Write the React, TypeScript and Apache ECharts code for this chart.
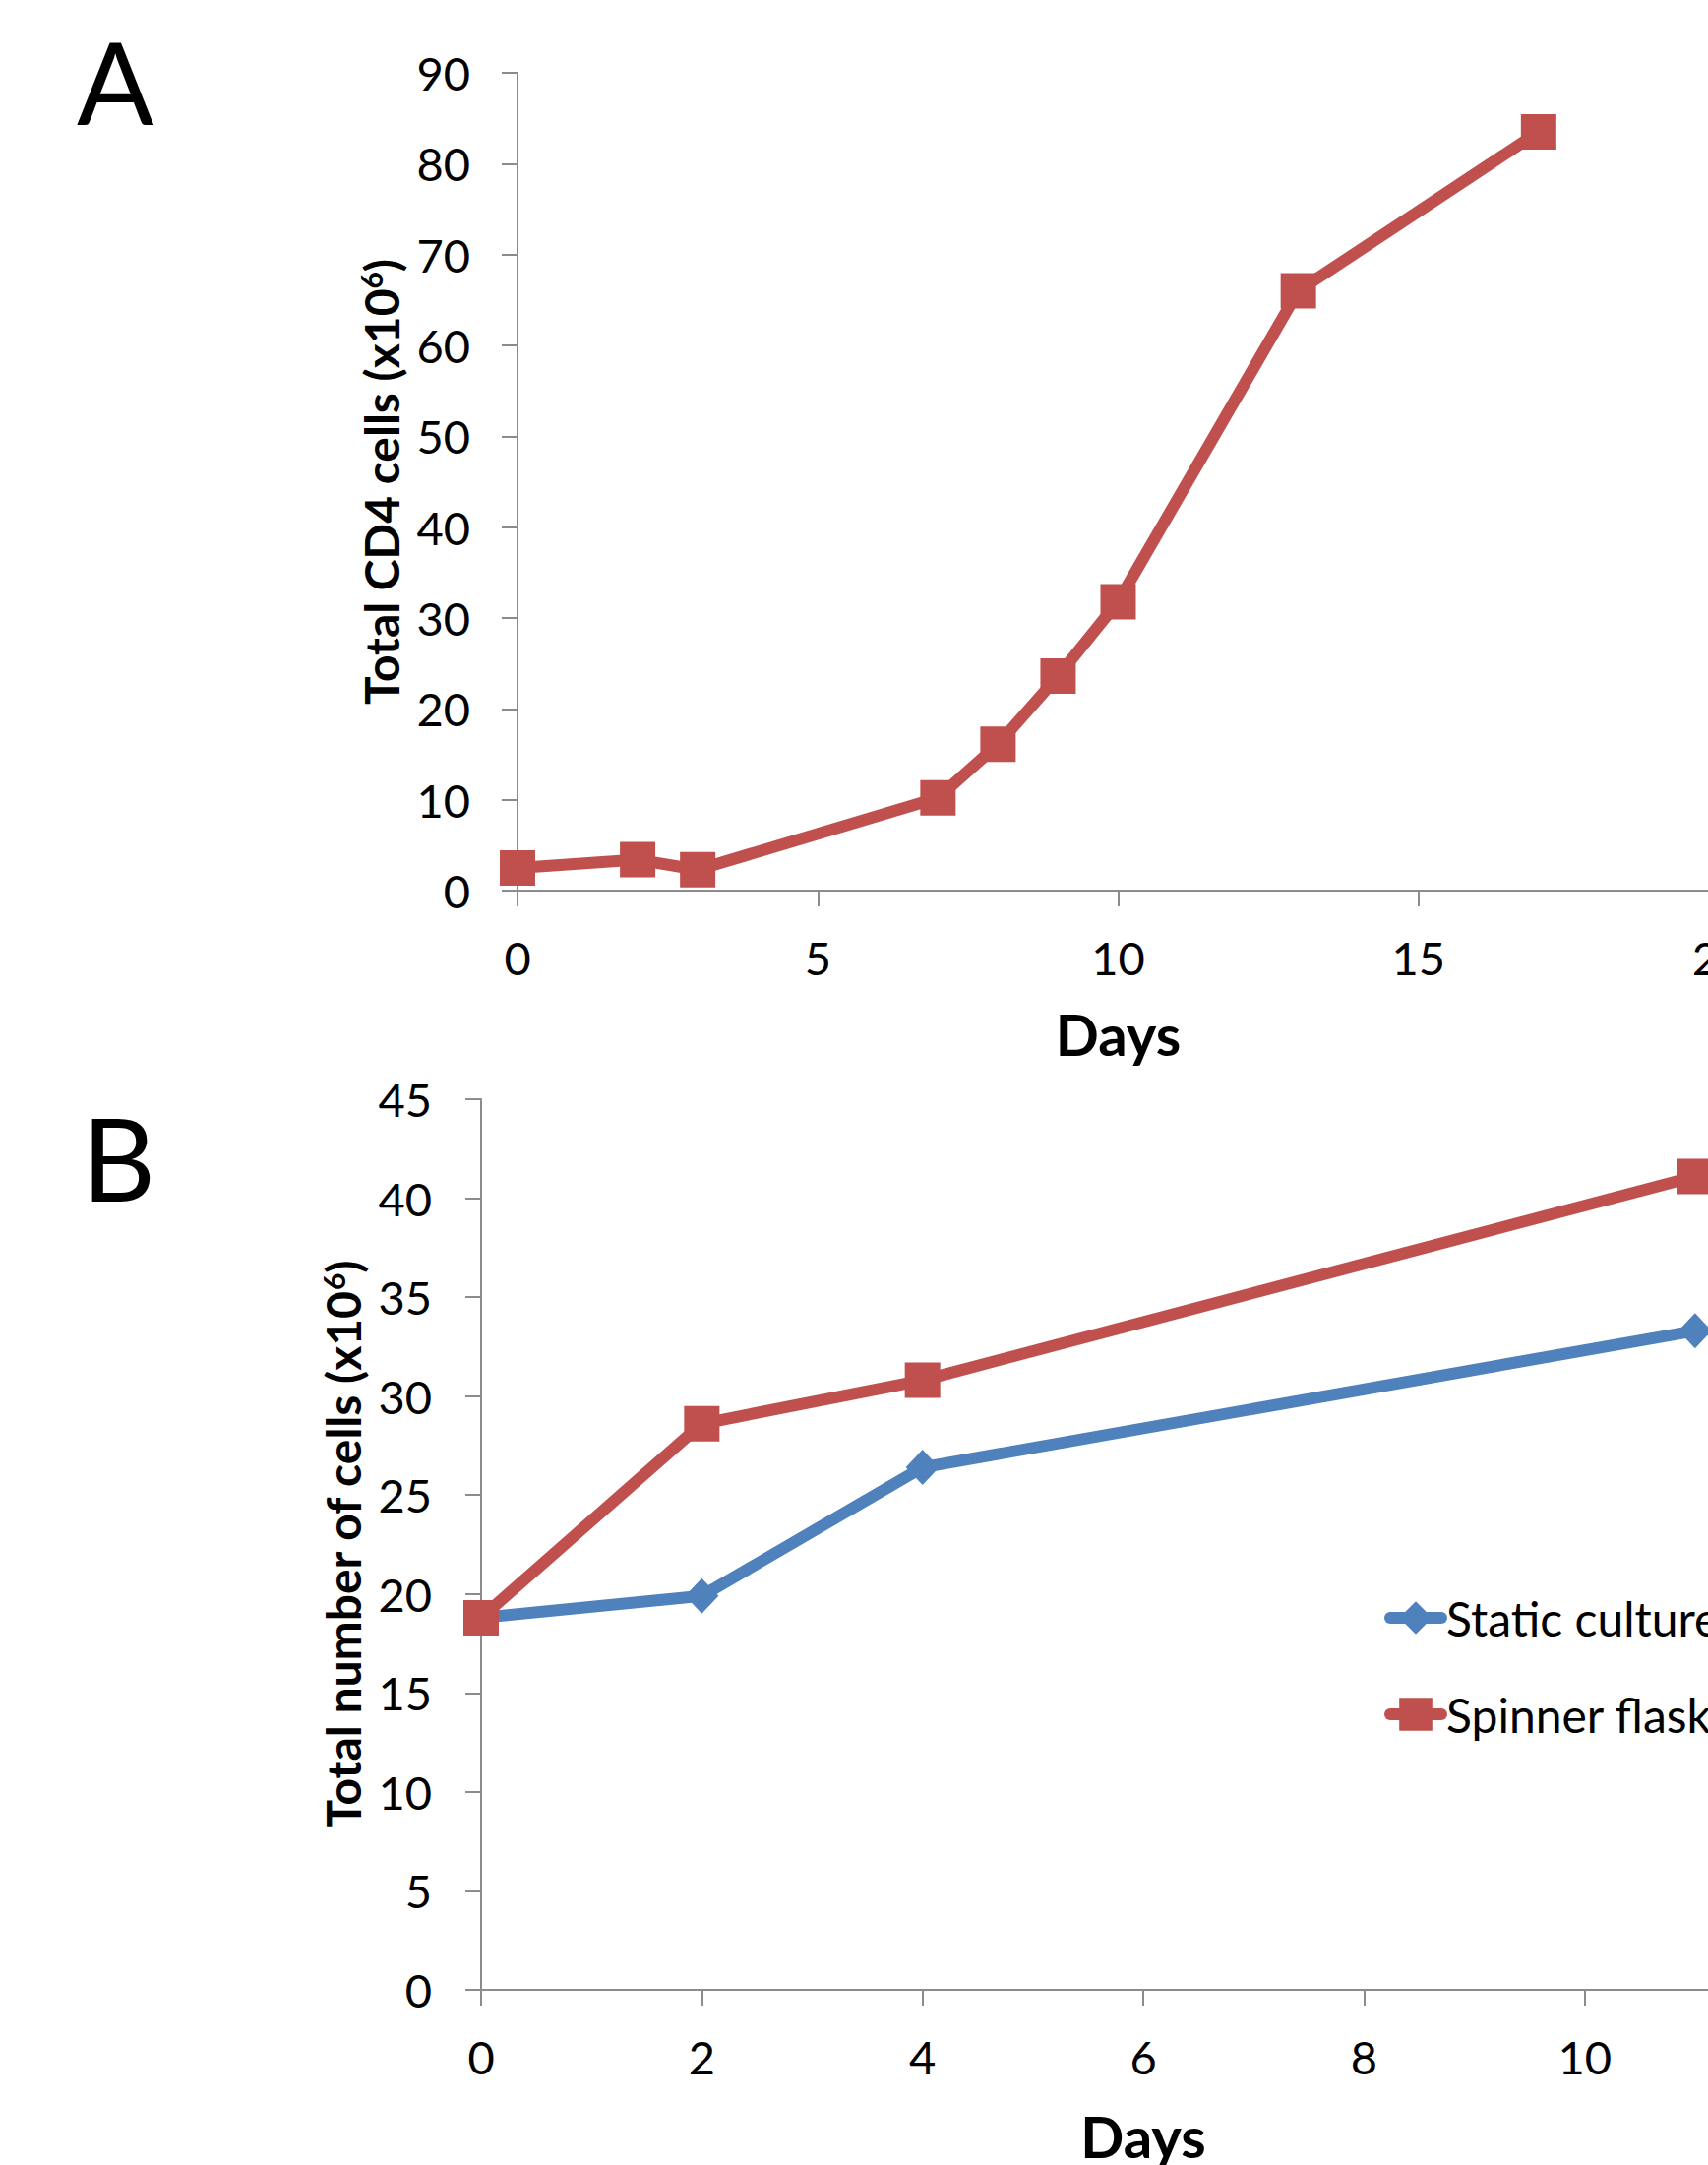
import React, { useEffect, useRef } from "react";
import * as echarts from "echarts";

const daysA = [0, 2, 3, 7, 8, 9, 10, 13, 17];
const cd4Cells = [2.5, 3.4, 2.3, 10.2, 16.1, 23.6, 31.8, 66.0, 83.5];

const daysB = [0, 2, 4, 11];
const staticCulture = [18.8, 19.9, 26.4, 33.3];
const spinnerFlask = [18.8, 28.6, 30.8, 41.1];

const seriesNames = ["Static culture", "Spinner flask"];
const titleA = "Total CD4 cells (x10{sup|6})";
const titleB = "Total number of cells (x10{sup|6})";
const xTitle = "Days";

const FONT = "Lato";
const RED = "#C0504D";
const BLUE = "#4F81BD";
const AXIS = "#8C8C8C";

export default function App() {
  const ref = useRef<HTMLDivElement>(null);
  useEffect(() => {
    if (!ref.current) return;
    const chart = echarts.init(ref.current, null, { renderer: "svg" });
    const axisCommon = {
      axisLine: { show: true, lineStyle: { color: AXIS, width: 2 } },
      axisTick: { show: true, inside: false, length: 16, lineStyle: { color: AXIS, width: 2 } },
      splitLine: { show: false },
    };
    const labelStyle = { color: "#000", fontFamily: FONT, fontSize: 47 };
    const yNameStyle = {
      color: "#000",
      fontFamily: FONT,
      fontWeight: "bold" as const,
      fontSize: 48,
      lineHeight: 50,
      rich: {
        sup: {
          fontFamily: FONT,
          fontWeight: "bold" as const,
          fontSize: 30,
          lineHeight: 30,
          verticalAlign: "top" as const,
          color: "#000",
        },
      },
    };
    const xNameStyle = {
      color: "#000",
      fontFamily: FONT,
      fontWeight: "bold" as const,
      fontSize: 58,
      lineHeight: 58,
    };
    chart.setOption({
      animation: false,
      backgroundColor: "#fff",
      grid: [
        { left: 526, top: 74, width: 1221, height: 831, containLabel: false },
        { left: 489, top: 1117, width: 1346, height: 906, containLabel: false },
      ],
      xAxis: [
        {
          gridIndex: 0,
          type: "value",
          min: 0,
          max: 20,
          interval: 5,
          ...axisCommon,
          axisLabel: { ...labelStyle, margin: 44 },
          name: xTitle,
          nameLocation: "middle",
          nameGap: 116,
          nameTextStyle: xNameStyle,
        },
        {
          gridIndex: 1,
          type: "value",
          min: 0,
          max: 12,
          interval: 2,
          ...axisCommon,
          axisLabel: { ...labelStyle, margin: 44 },
          name: xTitle,
          nameLocation: "middle",
          nameGap: 119,
          nameTextStyle: xNameStyle,
        },
      ],
      yAxis: [
        {
          gridIndex: 0,
          type: "value",
          min: 0,
          max: 90,
          interval: 10,
          ...axisCommon,
          axisLabel: { ...labelStyle, margin: 48 },
          name: titleA,
          nameLocation: "middle",
          nameGap: 114,
          nameRotate: 90,
          nameTextStyle: yNameStyle,
        },
        {
          gridIndex: 1,
          type: "value",
          min: 0,
          max: 45,
          interval: 5,
          ...axisCommon,
          axisLabel: { ...labelStyle, margin: 50 },
          name: titleB,
          nameLocation: "middle",
          nameGap: 115,
          nameRotate: 90,
          nameTextStyle: yNameStyle,
        },
      ],
      legend: {
        show: true,
        orient: "vertical",
        left: 1402,
        top: 1615,
        itemWidth: 52,
        itemHeight: 42,
        itemGap: 50,
        data: seriesNames,
        lineStyle: { width: 12, cap: "round" },
        textStyle: { color: "#000", fontFamily: FONT, fontSize: 48, lineHeight: 48 },
      },
      graphic: [
        {
          type: "text",
          left: 78,
          top: 24,
          style: { text: "A", font: `116px ${FONT}`, fill: "#000" },
        },
        {
          type: "text",
          left: 83,
          top: 1118,
          style: { text: "B", font: `116px ${FONT}`, fill: "#000" },
        },
      ],
      series: [
        {
          name: "CD4",
          type: "line",
          xAxisIndex: 0,
          yAxisIndex: 0,
          data: daysA.map((d, i) => [d, cd4Cells[i]]),
          symbol: "rect",
          symbolSize: 36,
          lineStyle: { color: RED, width: 12 },
          itemStyle: { color: RED },
        },
        {
          name: seriesNames[0],
          type: "line",
          xAxisIndex: 1,
          yAxisIndex: 1,
          data: daysB.map((d, i) => [d, staticCulture[i]]),
          symbol: "diamond",
          symbolSize: [34, 36],
          lineStyle: { color: BLUE, width: 12, cap: "round" },
          itemStyle: { color: BLUE },
        },
        {
          name: seriesNames[1],
          type: "line",
          xAxisIndex: 1,
          yAxisIndex: 1,
          data: daysB.map((d, i) => [d, spinnerFlask[i]]),
          symbol: "rect",
          symbolSize: 36,
          lineStyle: { color: RED, width: 12, cap: "round" },
          itemStyle: { color: RED },
        },
      ],
    });
    return () => chart.dispose();
  }, []);
  return (
    <div
      style={{
        position: "absolute",
        left: 0,
        top: 0,
        width: 1736,
        height: 2200,
        overflow: "hidden",
        background: "#fff",
      }}
    >
      <div ref={ref} style={{ width: 1900, height: 2200 }} />
    </div>
  );
}
